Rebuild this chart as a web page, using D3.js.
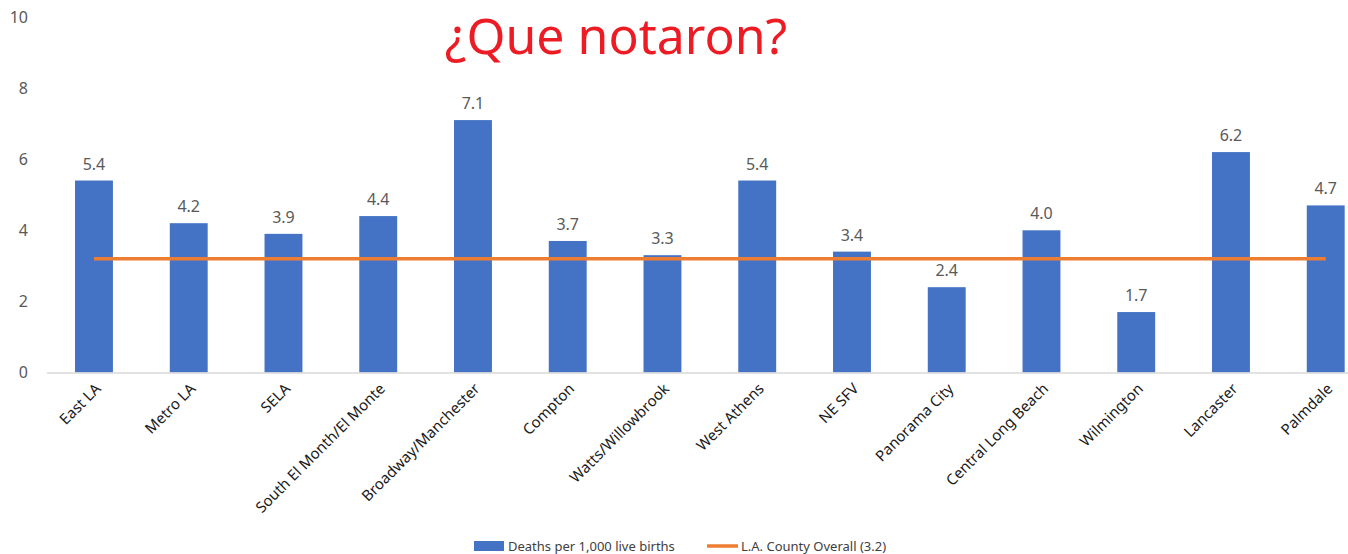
<!DOCTYPE html>
<html lang="en">
<head>
    <meta charset="UTF-8">
    <title>¿Que notaron?</title>
    <script src="https://d3js.org/d3.v7.min.js"></script>
    <style>
        body {
            margin: 0;
            background: #ffffff;
            font-family: "Noto Sans", "Open Sans", sans-serif;
            overflow: hidden;
        }
        .tick-label {
            font-size: 16px;
            fill: #595959;
        }
        .value-label {
            font-size: 16px;
            fill: #595959;
        }
        .cat-label {
            font-size: 15px;
            fill: #1a1a1a;
        }
        .legend-label {
            font-size: 13px;
            fill: #404040;
        }
    </style>
</head>
<body>
    <div id="chart"></div>

    <script>
        const categories = [
            "East LA", "Metro LA", "SELA", "South El Month/El Monte", "Broadway/Manchester",
            "Compton", "Watts/Willowbrook", "West Athens", "NE SFV", "Panorama City",
            "Central Long Beach", "Wilmington", "Lancaster", "Palmdale"
        ];
        const deaths = [5.4, 4.2, 3.9, 4.4, 7.1, 3.7, 3.3, 5.4, 3.4, 2.4, 4.0, 1.7, 6.2, 4.7];
        const countyOverall = 3.2;
        const yTicks = [0, 2, 4, 6, 8, 10];
        const seriesNames = ["Deaths per 1,000 live births", "L.A. County Overall (3.2)"];

        const width = 1348, height = 554;

        const svg = d3.select("#chart")
            .append("svg")
            .attr("width", width)
            .attr("height", height);

        const x = d3.scaleBand()
            .domain(categories)
            .range([46.6, 1373.1])
            .paddingInner(0.6)
            .paddingOuter(0.3);

        const y = d3.scaleLinear()
            .domain([0, 10])
            .range([372.5, 17]);

        // Title
        svg.append("text")
            .attr("x", 616)
            .attr("y", 54)
            .attr("text-anchor", "middle")
            .style("font-size", "50px")
            .style("fill", "#ed1c24")
            .text("¿Que notaron?");

        // y tick labels (no gridlines)
        svg.selectAll(".tick-label")
            .data(yTicks)
            .enter()
            .append("text")
            .attr("class", "tick-label")
            .attr("x", 28)
            .attr("y", d => y(d))
            .attr("dy", "0.35em")
            .attr("text-anchor", "end")
            .text(d => d);

        // bars
        svg.selectAll(".bar")
            .data(deaths)
            .enter()
            .append("rect")
            .attr("class", "bar")
            .attr("x", (d, i) => x(categories[i]))
            .attr("y", d => y(d))
            .attr("width", x.bandwidth())
            .attr("height", d => y(0) - y(d))
            .attr("fill", "#4472c4");

        // baseline
        svg.append("line")
            .attr("x1", 47)
            .attr("x2", width)
            .attr("y1", y(0) + 0.5)
            .attr("y2", y(0) + 0.5)
            .attr("stroke", "#d9d9d9")
            .attr("stroke-width", 1.5);

        // value labels
        svg.selectAll(".value-label")
            .data(deaths)
            .enter()
            .append("text")
            .attr("class", "value-label")
            .attr("x", (d, i) => x(categories[i]) + x.bandwidth() / 2)
            .attr("y", d => y(d) - 11)
            .attr("text-anchor", "middle")
            .text(d => d.toFixed(1));

        // county overall line
        const line = d3.line()
            .x(d => x(d) + x.bandwidth() / 2)
            .y(() => y(countyOverall));

        svg.append("path")
            .datum(categories)
            .attr("d", line)
            .attr("fill", "none")
            .attr("stroke", "#ed7d31")
            .attr("stroke-width", 3.5);

        // category labels
        svg.selectAll(".cat-label")
            .data(categories)
            .enter()
            .append("text")
            .attr("class", "cat-label")
            .attr("transform", d => `translate(${x(d) + x.bandwidth() / 2 + 4},${386}) rotate(-45)`)
            .attr("text-anchor", "end")
            .attr("dy", "0.35em")
            .text(d => d);

        // legend
        const legend = svg.append("g");
        legend.append("rect")
            .attr("x", 474)
            .attr("y", 541)
            .attr("width", 30)
            .attr("height", 10)
            .attr("fill", "#4472c4");
        legend.append("text")
            .attr("class", "legend-label")
            .attr("x", 508)
            .attr("y", 551)
            .text(seriesNames[0]);
        legend.append("line")
            .attr("x1", 707)
            .attr("x2", 738)
            .attr("y1", 546)
            .attr("y2", 546)
            .attr("stroke", "#ed7d31")
            .attr("stroke-width", 3.5);
        legend.append("text")
            .attr("class", "legend-label")
            .attr("x", 741)
            .attr("y", 551)
            .text(seriesNames[1]);
    </script>
</body>
</html>
